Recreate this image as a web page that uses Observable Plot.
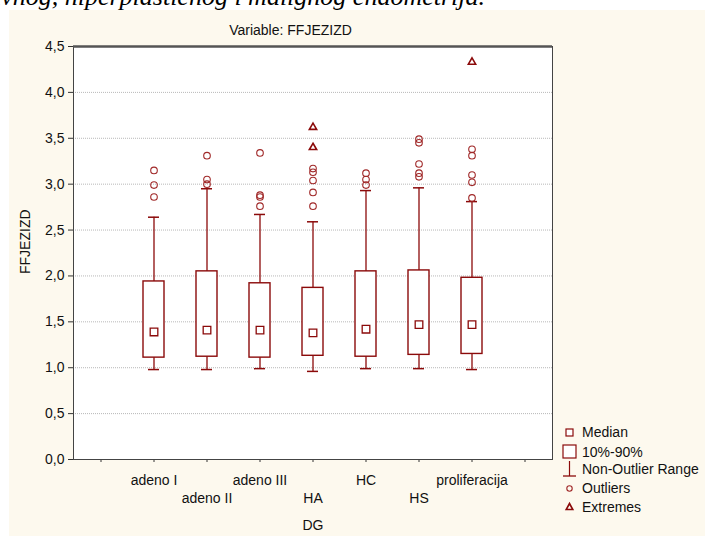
<!DOCTYPE html>
<html>
<head>
<meta charset="utf-8">
<script src="https://cdn.jsdelivr.net/npm/d3@7"></script>
<script src="https://cdn.jsdelivr.net/npm/@observablehq/plot@0.6"></script>
<style>
  html, body { margin: 0; padding: 0; background: #ffffff; }
  #wrap { position: relative; width: 705px; height: 536px; overflow: hidden; font-family: "Liberation Sans", Arial, sans-serif; }
  #panel { position: absolute; left: 9px; top: 10px; right: 0; bottom: 0; background: #fdf9ee; }
  #cut { position: absolute; right: 220px; top: -16px; font-family: "Liberation Serif", "Times New Roman", serif; font-style: italic; font-size: 26px; line-height: 26px; white-space: nowrap; color: #000; z-index: 3; }
  #chart { position: absolute; left: 0; top: 0; z-index: 2; }
  #legend { position: absolute; left: 560px; top: 424px; z-index: 4; font-size: 14px; color: #111; }
  #legend .row { position: absolute; left: 0; white-space: nowrap; }
  #legend svg { position: absolute; left: 0; overflow: visible; }
  #legend span { position: absolute; left: 22px; line-height: 16px; }
</style>
</head>
<body>
<div id="wrap">
  <div id="panel"></div>
  <div id="cut">proliferativnog, hiperplastičnog i malignog endometrija.</div>
  <div id="chart"></div>
  <div id="legend"></div>
</div>
<script>
// ---- data ----
const title = "Variable: FFJEZIZD";
const yLabel = "FFJEZIZD";
const xLabel = "DG";
const categories = ["adeno I", "adeno II", "adeno III", "HA", "HC", "HS", "proliferacija"];
const yTicks = [0, 0.5, 1, 1.5, 2, 2.5, 3, 3.5, 4, 4.5];
const medians     = [1.39, 1.41, 1.41, 1.38, 1.42, 1.47, 1.47];
const q10         = [1.11, 1.12, 1.11, 1.13, 1.12, 1.14, 1.15];
const q90         = [1.94, 2.05, 1.92, 1.87, 2.05, 2.06, 1.98];
const whiskerLow  = [0.98, 0.98, 0.99, 0.96, 0.99, 0.99, 0.98];
const whiskerHigh = [2.64, 2.95, 2.67, 2.59, 2.93, 2.96, 2.81];
const outliers = [
  [3.15, 2.99, 2.86],
  [3.31, 3.05, 3.00],
  [3.34, 2.88, 2.86, 2.76],
  [3.17, 3.13, 3.04, 2.91, 2.76],
  [3.12, 3.05, 2.99],
  [3.49, 3.45, 3.22, 3.12, 3.08],
  [3.38, 3.31, 3.10, 3.02, 2.85]
];
const extremes = [[], [], [], [3.62, 3.40], [], [], [4.33]];
const legendItems = ["Median", "10%-90%", "Non-Outlier Range", "Outliers", "Extremes"];

// ---- tables built from the arrays ----
const rows = categories.map((c, i) => ({cat: c, med: medians[i], lo: whiskerLow[i], hi: whiskerHigh[i], b1: q10[i], b2: q90[i]}));
const outRows = categories.flatMap((c, i) => outliers[i].map(v => ({cat: c, v})));
const extRows = categories.flatMap((c, i) => extremes[i].map(v => ({cat: c, v})));
const xDomain = ["_l", ...categories, "_r"];

const red = "#8b0a0a";
const red2 = "#a02828";
const fmt = d => d.toFixed(1).replace(".", ",");

const chart = Plot.plot({
  width: 705,
  height: 536,
  marginLeft: 73,
  marginRight: 153,
  marginTop: 46,
  marginBottom: 77,
  style: {fontFamily: "'Liberation Sans', Arial, sans-serif", fontSize: "14px", color: "#111", background: "transparent", overflow: "visible"},
  x: {type: "band", domain: xDomain, padding: 0},
  y: {domain: [0, 4.5]},
  marks: [
    Plot.frame({fill: "white", stroke: "none"}),
    Plot.gridY(yTicks, {stroke: "#b8b8b8", strokeOpacity: 1, strokeDasharray: "1,1"}),
    Plot.axisY(yTicks, {tickFormat: fmt, tickSize: 5, tickPadding: 4, label: null, stroke: "#333", fontSize: 14}),
    Plot.axisX({tickFormat: () => "", tickSize: 3, label: null, stroke: "#333"}),
    Plot.axisX(categories.filter((d, i) => i % 2 === 0), {tickSize: 0, tickPadding: 15.5, label: null, fontSize: 14}),
    Plot.axisX(categories.filter((d, i) => i % 2 === 1), {tickSize: 0, tickPadding: 33.8, label: null, fontSize: 14}),
    Plot.ruleX(rows, {x: "cat", y1: "lo", y2: "hi", stroke: red, strokeWidth: 1.3}),
    Plot.tickY(rows, {x: "cat", y: "lo", stroke: red, strokeWidth: 1.5, insetLeft: 21, insetRight: 21}),
    Plot.tickY(rows, {x: "cat", y: "hi", stroke: red, strokeWidth: 1.5, insetLeft: 21, insetRight: 21}),
    Plot.barY(rows, {x: "cat", y1: "b1", y2: "b2", fill: "white", stroke: red, strokeWidth: 1.4, insetLeft: 16, insetRight: 16}),
    Plot.dot(rows, {x: "cat", y: "med", symbol: "square", r: 4.3, fill: "white", stroke: red, strokeWidth: 1.3}),
    Plot.dot(outRows, {x: "cat", y: "v", symbol: "circle", r: 3.3, fill: "none", stroke: red2, strokeWidth: 1.1}),
    Plot.dot(extRows, {x: "cat", y: "v", symbol: "triangle", r: 2.7, fill: "none", stroke: red, strokeWidth: 1.6}),
    Plot.frame({stroke: "#444", strokeWidth: 1}),
    Plot.ruleY([4.5], {stroke: "#555", strokeWidth: 2.5}),
    Plot.text([title], {frameAnchor: "top", dx: -22.5, dy: -16, lineAnchor: "middle", fill: "#111", fontSize: 14}),
    Plot.text([xLabel], {frameAnchor: "bottom", dy: 66.5, lineAnchor: "middle", fill: "#111", fontSize: 14}),
    Plot.text([yLabel], {frameAnchor: "left", rotate: -90, dx: -48, dy: 21, lineAnchor: "middle", fill: "#111", fontSize: 14})
  ]
});
document.getElementById("chart").appendChild(chart);

// ---- legend ----
const icons = [
  `<svg width="14" height="14" style="top:-7px"><rect x="6" y="4" width="7" height="7" fill="white" stroke="${red}" stroke-width="1.2"/></svg>`,
  `<svg width="14" height="14" style="top:-7px"><rect x="3" y="0" width="13" height="13" fill="white" stroke="${red}" stroke-width="1.2"/></svg>`,
  `<svg width="14" height="16" style="top:-8px"><line x1="3" x2="16" y1="15" y2="15" stroke="${red}" stroke-width="1.3"/><line x1="9.5" x2="9.5" y1="0" y2="15" stroke="${red}" stroke-width="1.2"/></svg>`,
  `<svg width="14" height="14" style="top:-7px"><circle cx="9.5" cy="7.5" r="2.7" fill="none" stroke="${red2}" stroke-width="1.1"/></svg>`,
  `<svg width="14" height="14" style="top:-7px"><path d="M9.5,3.5 L12.8,9.5 L6.2,9.5 Z" fill="none" stroke="${red}" stroke-width="1.6"/></svg>`
];
const ys = [8, 28, 45, 64, 83];
const lg = document.getElementById("legend");
legendItems.forEach((t, i) => {
  const r = document.createElement("div");
  r.className = "row";
  r.style.top = ys[i] + "px";
  r.innerHTML = icons[i] + `<span style="top:-8px">${t}</span>`;
  lg.appendChild(r);
});
</script>
</body>
</html>
